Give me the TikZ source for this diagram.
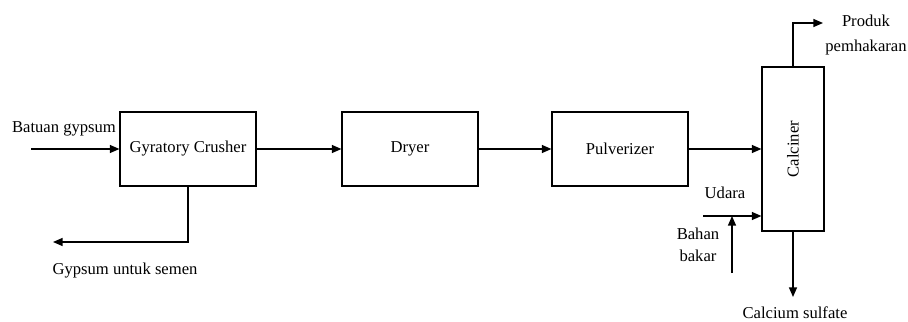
\documentclass[tikz,border=0pt]{standalone}
\usepackage{fontspec}
\setmainfont{Liberation Serif}
\usetikzlibrary{arrows.meta, positioning}

\begin{document}
\begin{tikzpicture}[x=0.022cm, y=-0.022cm, font=\fontsize{10.4}{12.5}\selectfont,
    unit/.style={rectangle, draw, line width=0.7pt, minimum width=136*0.022cm, minimum height=74*0.022cm},
    flow/.style={line width=0.8pt, -{Triangle[length=6pt, width=5pt]}}]
    \useasboundingbox (0,0) rectangle (908,322);

    \node (crusher) [unit] at (188,149) {Gyratory Crusher};
    \node (dryer) [unit] at (410,149) {Dryer};
    \node (pulv) [unit] at (620,149) {Pulverizer};
    \node (calciner) [rectangle, draw, line width=0.7pt, minimum width=62*0.022cm, minimum height=164*0.022cm] at (793,149) {\rotatebox{90}{Calciner}};

    \coordinate (feed) at (31,149);
    \coordinate (gout) at (53,242);
    \coordinate (air) at (703,216);
    \coordinate (fuel) at (732,273);
    \coordinate (prod) at (823,23);
    \coordinate (cs) at (793,297);

    \node (feedlbl) at (64,129) {Batuan gypsum};
    \node (goutlbl) at (125,271) {Gypsum untuk semen};
    \node (airlbl) at (725,193) {Udara};
    \node (fuellbl) [align=center, font=\fontsize{10.4}{14}\selectfont] at (698,245) {Bahan\\bakar};
    \node (prodlbl) [align=center, font=\fontsize{10.4}{15.5}\selectfont] at (866,35) {Produk\\pemhakaran};
    \node (cslbl) at (795,313) {Calcium sulfate};

    \draw [flow] (feed) -- (crusher);
    \draw [flow] (crusher) -- (dryer);
    \draw [flow] (dryer) -- (pulv);
    \draw [flow] (pulv) -- (calciner);
    \draw [flow] (crusher.south) |- (gout);
    \draw [flow] (air) -- (air -| calciner.west);
    \draw [flow] (fuel) -- (fuel |- air);
    \draw [flow] (calciner.north) |- (prod);
    \draw [flow] (calciner.south) -- (cs);
\end{tikzpicture}
\end{document}
